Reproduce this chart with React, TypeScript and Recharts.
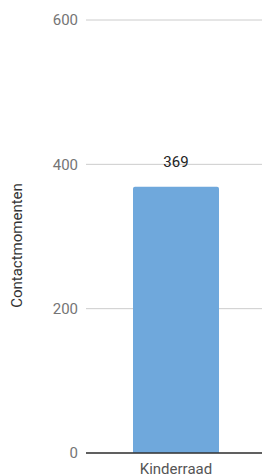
import React from 'react';
import { BarChart, Bar, XAxis, YAxis, CartesianGrid, LabelList, Label } from 'recharts';

const categories = ['Kinderraad'];
const contactValues = [369];
const yTicks = [0, 200, 400, 600];

const data = categories.map((name, i) => ({ name, value: contactValues[i] }));

const App: React.FC = () => {
  return (
    <div style={{ position: 'absolute', top: 0, left: 0, fontFamily: 'Roboto, sans-serif' }}>
      <BarChart width={262} height={475} data={data} margin={{ top: 20, right: -4, bottom: 0, left: 0 }}>
        <CartesianGrid vertical={false} stroke="#cccccc" />
        <XAxis
          dataKey="name"
          height={22}
          tickLine={false}
          axisLine={{ stroke: '#333333', strokeWidth: 1.5 }}
          tick={{ fontSize: 15, fill: '#555555' }}
          tickMargin={4}
        />
        <YAxis
          width={86}
          domain={[0, 600]}
          ticks={yTicks}
          tickLine={false}
          axisLine={false}
          tick={{ fontSize: 15, fill: '#757575' }}
        >
          <Label value="Contactmomenten" angle={-90} position="insideLeft" dx={12} dy={9} style={{ fontSize: 15, fill: '#333333', textAnchor: 'middle' }} />
        </YAxis>
        <Bar dataKey="value" fill="#6fa8dc" barSize={86} radius={[2, 2, 0, 0]} isAnimationActive={false}>
          <LabelList dataKey="value" position="top" offset={20} style={{ fontSize: 15, fill: '#222222' }} />
        </Bar>
      </BarChart>
    </div>
  );
};

export default App;
